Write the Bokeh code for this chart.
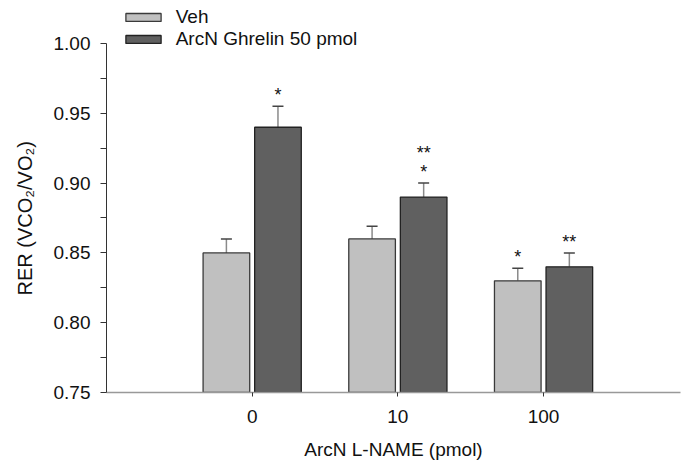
from bokeh.plotting import figure
from bokeh.models import (ColumnDataSource, FixedTicker, Legend, LegendItem, Whisker,
                          TeeHead, PrintfTickFormatter, Range1d, Title)
from bokeh.embed import file_html
from bokeh.resources import INLINE
from bokeh.core.properties import value
import numpy as np

# ---- data ----
doses = ["0", "10", "100"]
veh_mean = [0.85, 0.86, 0.83]
veh_sem = [0.010, 0.009, 0.009]
ghr_mean = [0.94, 0.89, 0.84]
ghr_sem = [0.015, 0.010, 0.010]
veh_stars = ["", "", "*"]
ghr_stars = ["*", "*", "**"]
ghr_stars_upper = ["", "**", ""]
y_ticks = [0.75, 0.80, 0.85, 0.90, 0.95, 1.00]
series_names = ["Veh", "ArcN Ghrelin 50 pmol"]
y_title = "RER (VCO\u2082/VO\u2082)"
x_title = "ArcN L-NAME (pmol)"

FONT = "Liberation Sans"
FS = "19px"
pos = np.arange(len(doses))
off = 0.177
bw = 0.32

veh_src = ColumnDataSource(dict(
    x=pos - off, top=veh_mean,
    upper=[m + s for m, s in zip(veh_mean, veh_sem)], stars=veh_stars))
ghr_src = ColumnDataSource(dict(
    x=pos + off, top=ghr_mean,
    upper=[m + s for m, s in zip(ghr_mean, ghr_sem)], stars=ghr_stars,
    stars2=ghr_stars_upper))

# frame extends a little above 1.00 so the legend (drawn above the axis top) is not clipped;
# the y axis itself is bounded to 0.75-1.00
p = figure(width=681, height=464, output_backend="svg", toolbar_location=None,
           x_range=Range1d(-1, 2.94), y_range=Range1d(y_ticks[0], 1.0308),
           min_border_left=106, min_border_right=1, min_border_top=0,
           min_border_bottom=72)
p.outline_line_color = None
p.xgrid.visible = False
p.ygrid.visible = False

r_veh = p.vbar(x="x", top="top", bottom=y_ticks[0], width=bw, source=veh_src,
               fill_color="#C0C0C0", line_color="#3a3a3a", line_width=1.3)
r_ghr = p.vbar(x="x", top="top", bottom=y_ticks[0], width=bw, source=ghr_src,
               fill_color="#606060", line_color="#222222", line_width=1.3)

for src in (veh_src, ghr_src):
    p.add_layout(Whisker(base="x", lower="top", upper="upper", source=src,
                         dimension="height", line_color="#8a8a8a", line_width=1.5,
                         upper_head=TeeHead(size=11, line_color="#444444", line_width=1.5),
                         lower_head=None))

for src, col, dy in ((veh_src, "stars", -1), (ghr_src, "stars", -1), (ghr_src, "stars2", -20)):
    p.text(x="x", y="upper", text=col, source=src, text_align="center",
           text_baseline="bottom", y_offset=dy, text_font=value(FONT),
           text_font_size="18px", text_color="#111111")

# y axis
p.yaxis.ticker = FixedTicker(ticks=y_ticks,
                             minor_ticks=[(a + b) / 2 for a, b in zip(y_ticks[:-1], y_ticks[1:])])
p.yaxis.bounds = (y_ticks[0], y_ticks[-1])
p.yaxis.formatter = PrintfTickFormatter(format="%.2f")
p.yaxis.axis_line_color = "#333333"
p.yaxis.major_tick_line_color = "#333333"
p.yaxis.minor_tick_line_color = "#333333"
p.yaxis.major_tick_out = 6
p.yaxis.major_tick_in = 0
p.yaxis.minor_tick_out = 6
p.yaxis.minor_tick_in = 0
p.yaxis.major_label_standoff = 10

# y title, positioned along the 0.75-1.00 span of the axis
p.add_layout(Title(text=y_title, align="left", vertical_align="top", offset=97, standoff=26,
                   text_font=FONT, text_font_size="20px", text_font_style="normal",
                   text_color="#111111"), "left")

# x axis
p.xaxis.ticker = FixedTicker(ticks=list(pos), minor_ticks=[])
p.xaxis.major_label_overrides = {int(i): d for i, d in zip(pos, doses)}
p.xaxis.axis_label = x_title
p.xaxis.axis_line_color = "#999999"
p.xaxis.axis_line_width = 1.5
p.xaxis.major_tick_line_color = "#333333"
p.xaxis.major_tick_out = 4
p.xaxis.major_tick_in = 0
p.xaxis.major_label_standoff = 13
p.xaxis.axis_label_standoff = 13

for ax in (p.xaxis, p.yaxis):
    ax.major_label_text_font = FONT
    ax.major_label_text_font_size = FS
    ax.major_label_text_color = "#111111"
    ax.axis_label_text_font = FONT
    ax.axis_label_text_font_size = FS
    ax.axis_label_text_font_style = "normal"
    ax.axis_label_text_color = "#111111"

legend = Legend(items=[LegendItem(label=series_names[0], renderers=[r_veh]),
                       LegendItem(label=series_names[1], renderers=[r_ghr])],
                location=(14.7, 342.0), orientation="vertical",
                glyph_width=44, glyph_height=10, label_standoff=11, spacing=-1,
                padding=0, margin=0, border_line_color=None, background_fill_alpha=0,
                label_text_font=FONT, label_text_font_size=FS,
                label_text_color="#111111")
p.add_layout(legend)

open("out.html", "w").write(file_html(p, INLINE))
